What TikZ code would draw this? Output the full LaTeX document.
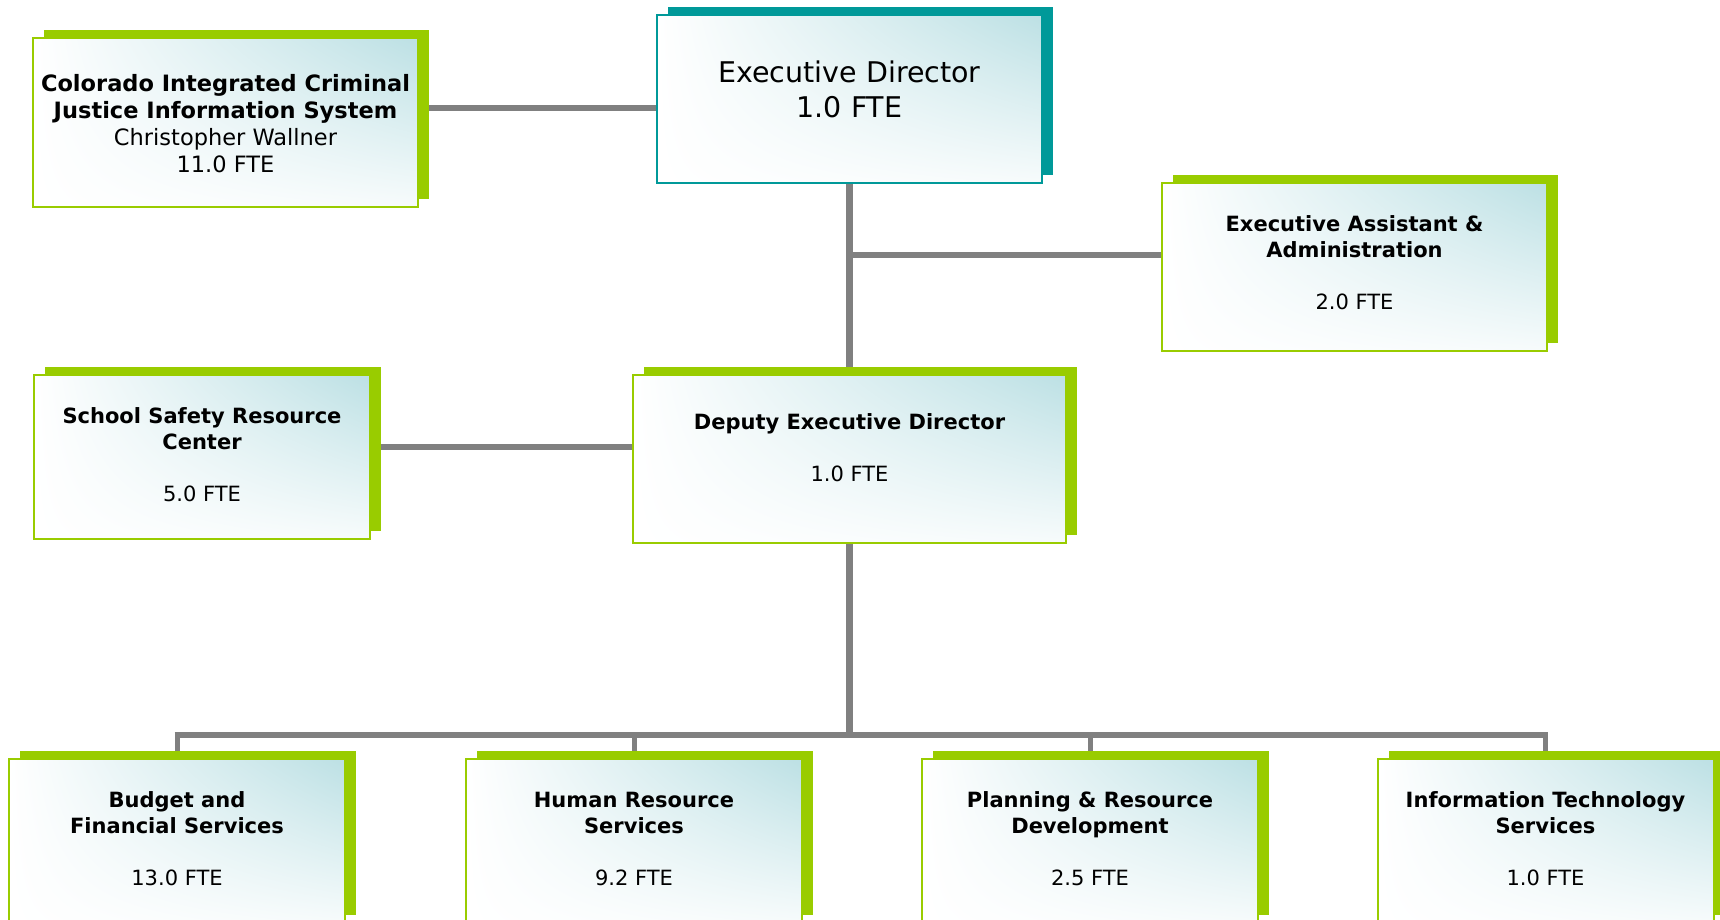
\documentclass[tikz,border=0pt]{standalone}
\usepackage{fontspec}
\setmainfont{DejaVu Sans}
\usetikzlibrary{shadows,backgrounds,shadings}
\definecolor{lime}{RGB}{153,204,0}
\definecolor{tealed}{RGB}{0,153,153}
\definecolor{lteal}{RGB}{188,224,228}
\definecolor{conn}{RGB}{128,128,128}
\begin{document}
\begin{tikzpicture}[x=1pt,y=1pt,
  basebox/.style={rectangle, line width=2pt, inner sep=0pt, shade,
    upper left=white, upper right=lteal, lower left=white, lower right=lteal!12},
  greenbox/.style={basebox, draw=lime, general shadow={fill=lime, shadow xshift=11pt, shadow yshift=8pt}},
  tealbox/.style={basebox, draw=tealed, general shadow={fill=tealed, shadow xshift=11pt, shadow yshift=8pt}},
  wide/.style={minimum width=385pt, minimum height=168pt},
  narrow/.style={minimum width=336pt, minimum height=164pt},
  txt/.style={align=center, inner sep=0pt, text=black, font=\fontsize{21}{26}\selectfont},
  conn/.style={draw=conn, line width=6.5pt},
  busline/.style={draw=conn, line width=6pt},
  drop/.style={draw=conn, line width=5pt}]
\useasboundingbox (0,0) rectangle (1720,-919);

% boxes
\node[greenbox, wide, minimum height=169pt] (cic) at (225.5,-122.5) {};
\node[tealbox, wide] (ed) at (849.5,-99) {};
\node[greenbox, wide] (asst) at (1354.5,-267) {};
\node[greenbox, narrow] (school) at (202,-457) {};
\node[greenbox, minimum width=433pt, minimum height=168pt] (dep) at (849.5,-459) {};
\node[greenbox, narrow] (budget) at (177,-841) {};
\node[greenbox, narrow] (hr) at (634,-841) {};
\node[greenbox, narrow] (plan) at (1090,-841) {};
\node[greenbox, narrow] (it) at (1545.5,-841) {};

% texts
\node[txt, font=\fontsize{22.5}{27}\selectfont] (cictxt) at (225.5,-124)
  {\textbf{Colorado Integrated Criminal}\\\textbf{Justice Information System}\\Christopher Wallner\\11.0 FTE};
\node[txt, font=\fontsize{28.5}{35}\selectfont] (edtxt) at (849.5,-89) {Executive Director\\1.0 FTE};
\node[txt] (asttxt) at (1354.5,-262.5) {\textbf{Executive Assistant \&}\\\textbf{Administration}\\[26pt]2.0 FTE};
\node[txt] (deptxt) at (849.5,-448) {\textbf{Deputy Executive Director}\\[26pt]1.0 FTE};
\node[txt] (schtxt) at (202,-454.5) {\textbf{School Safety Resource}\\\textbf{Center}\\[26pt]5.0 FTE};
\node[txt] (budtxt) at (177,-838.5) {\textbf{Budget and}\\\textbf{Financial Services}\\[26pt]13.0 FTE};
\node[txt] (hrtxt) at (634,-838.5) {\textbf{Human Resource}\\\textbf{Services}\\[26pt]9.2 FTE};
\node[txt] (plantxt) at (1090,-838.5) {\textbf{Planning \& Resource}\\\textbf{Development}\\[26pt]2.5 FTE};
\node[txt] (ittxt) at (1545.5,-838.5) {\textbf{Information Technology}\\\textbf{Services}\\[26pt]1.0 FTE};

% connectors
\begin{scope}[on background layer]
\coordinate (bus) at (849.5,-735);
\draw[conn] (cic.east |- 0,-108) -- (ed.west |- 0,-108);
\draw[conn] (ed.south) -- (dep.north);
\draw[conn] (ed.south |- 0,-255) -- (asst.west |- 0,-255);
\draw[conn] (school.east |- 0,-447) -- (dep.west |- 0,-447);
\draw[conn] (dep.south) -- (bus);
\draw[busline] ([xshift=-2.5pt]budget.north |- bus) -- ([xshift=2.5pt]it.north |- bus);
\draw[drop] (budget.north |- bus) -- (budget.north);
\draw[drop] (hr.north |- bus) -- (hr.north);
\draw[drop] (plan.north |- bus) -- (plan.north);
\draw[drop] (it.north |- bus) -- (it.north);
\end{scope}
\end{tikzpicture}
\end{document}
